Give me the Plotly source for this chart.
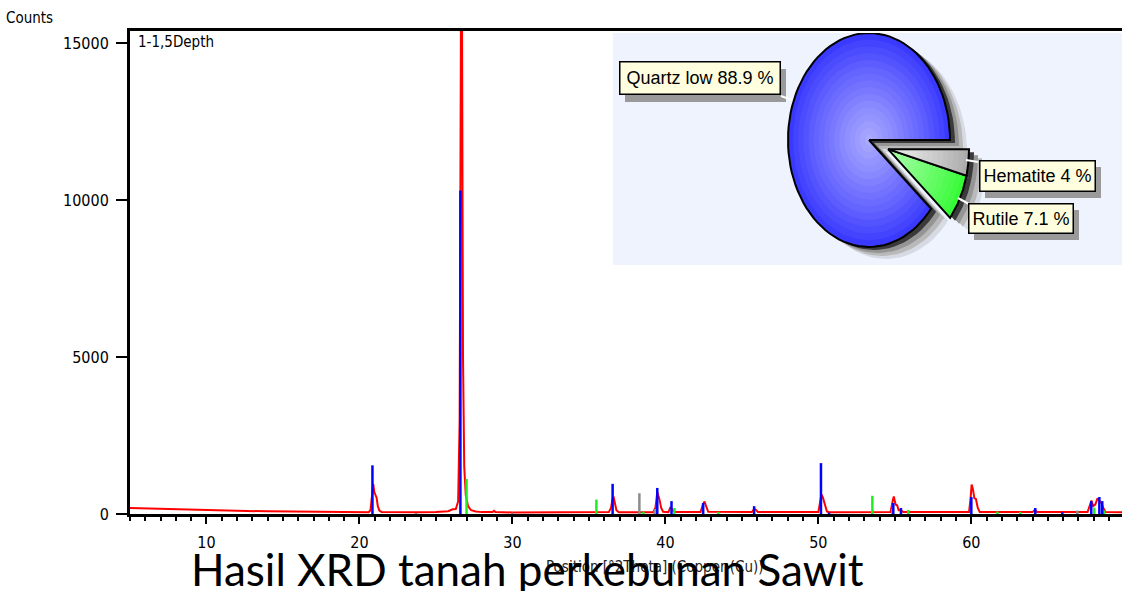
import numpy as np
import plotly.graph_objects as go

# ---------------- diffraction profile (2Theta in degrees, counts) ----------------
profile_2theta = [
    5.0, 6.0, 8.0, 10.0, 12.0, 14.0, 16.0, 18.0, 20.0, 20.6,
    20.72, 20.82, 20.9, 20.97, 21.05, 21.12, 21.2, 21.3, 21.45, 22.0,
    24.0, 25.0, 25.8, 26.1, 26.3, 26.45, 26.55, 26.64, 26.7, 26.77,
    26.85, 26.95, 27.1, 27.3, 27.6, 28.0, 28.7, 28.8, 28.9, 30.0,
    33.0, 36.3, 36.45, 36.55, 36.62, 36.7, 36.8, 36.95, 39.2, 39.35,
    39.47, 39.55, 39.62, 39.72, 39.85, 40.2, 40.32, 40.42, 40.52, 40.7,
    42.3, 42.45, 42.56, 42.66, 42.8, 45.65, 45.8, 45.9, 46.05, 50.0,
    50.1, 50.2, 50.3, 50.42, 50.56, 50.7, 54.72, 54.85, 54.93, 55.05,
    55.15, 55.25, 55.4, 55.55, 59.85, 59.95, 60.02, 60.1, 60.2, 60.3,
    60.42, 60.55, 64.0, 64.15, 64.3, 67.6, 67.75, 67.85, 67.97, 68.1,
    68.25, 68.38, 68.5, 68.62, 68.78, 69.85,
]
profile_counts = [
    190, 175, 150, 120, 100, 85, 75, 60, 50, 55,
    120, 600, 960, 700, 620, 520, 250, 110, 60, 55,
    55, 60, 90, 150, 160, 400, 3000, 16500, 16500, 5000,
    1500, 600, 250, 120, 80, 60, 60, 100, 60, 50,
    50, 60, 200, 500, 520, 300, 120, 55, 55, 200,
    700, 560, 450, 200, 70, 60, 200, 150, 100, 60,
    60, 300, 400, 250, 70, 60, 160, 140, 60, 60,
    300, 620, 520, 300, 80, 55, 60, 400, 560, 300,
    280, 120, 120, 60, 60, 500, 940, 800, 500, 480,
    200, 60, 60, 130, 60, 60, 300, 430, 250, 300,
    500, 420, 350, 200, 60, 55,
]
assert len(profile_2theta) == len(profile_counts)

# ---------------- reference pattern sticks ----------------
quartz_2theta = [20.85, 26.6, 36.55, 39.47, 40.4, 42.47, 45.8, 50.17, 50.7,
                 54.9, 55.4, 60.0, 64.18, 65.95, 67.84, 68.37, 68.56]
quartz_counts = [1550, 10300, 960, 830, 410, 350, 250, 1620, 40,
                 350, 190, 540, 190, 60, 410, 540, 410]

hematite_2theta = [23.7, 30.0, 38.3, 39.3, 54.84, 66.93]
hematite_counts = [30, 40, 660, 160, 160, 110]

rutile_2theta = [27.0, 35.49, 38.56, 40.59, 43.46, 53.53, 55.88, 61.7, 63.2, 68.04, 68.69]
rutile_counts = [1115, 460, 70, 190, 70, 580, 130, 80, 70, 200, 110]

# ---------------- phase composition ----------------
phase_names = ["Quartz low", "Rutile", "Hematite"]
phase_percent = [88.9, 7.1, 4.0]

y_ticks = [0, 5000, 10000, 15000]

# ---------------- page geometry ----------------
W, H = 1122, 591
L, R, T, B = 130, 0, 31, 77
PW, PH = W - L - R, H - T - B


def fx(px):
    return (px - L) / PW


def fy(py):
    return (H - B - py) / PH


TICKFONT = "DejaVu Sans Condensed, DejaVu Sans, Verdana"


def sticks(xs, ys):
    X, Y = [], []
    for x, y in zip(xs, ys):
        X += [x, x, None]
        Y += [0, y, None]
    return X, Y


fig = go.Figure()

# measured profile
fig.add_trace(go.Scatter(x=profile_2theta, y=profile_counts, mode="lines",
                         line=dict(color="#FF0000", width=2), xaxis="x", yaxis="y"))

# phase reference sticks
for xs, ys, col in [(hematite_2theta, hematite_counts, "#8C8C8C"),
                    (rutile_2theta, rutile_counts, "#1EEE1E"),
                    (quartz_2theta, quartz_counts, "#0000FF")]:
    sx, sy = sticks(xs, ys)
    fig.add_trace(go.Scatter(x=sx, y=sy, mode="lines",
                             line=dict(color=col, width=2.5), xaxis="x", yaxis="y"))

# ---------------- inset: phase pie (pixel units on x2/y2) ----------------
INS_X0, INS_X1, INS_Y0, INS_Y1 = 613, 1122, 33, 265
fig.add_trace(go.Scatter(x=[INS_X0, INS_X1, INS_X1, INS_X0, INS_X0],
                         y=[INS_Y0, INS_Y0, INS_Y1, INS_Y1, INS_Y0],
                         fill="toself", fillcolor="#EEF3FE", mode="lines",
                         line=dict(width=0), xaxis="x2", yaxis="y2"))

PIE_CX, PIE_CY = 869, 140
PIE_RX, PIE_RY = 81, 107
EXPLODE = 0.25

cum = np.concatenate([[0.0], np.cumsum(phase_percent)]) * 3.6
angles = [(cum[i], cum[i + 1]) for i in range(len(phase_percent))]
mid = np.radians((cum[1] + cum[-1]) / 2)
ex_dx = EXPLODE * PIE_RX * np.cos(mid)
ex_dy = -EXPLODE * PIE_RY * np.sin(mid)
centers = [(PIE_CX, PIE_CY), (PIE_CX + ex_dx, PIE_CY + ex_dy), (PIE_CX + ex_dx, PIE_CY + ex_dy)]


def sector(cx, cy, a0, a1, s=1.0, n=90):
    t = np.linspace(np.radians(a0), np.radians(a1), n)
    xs = [cx] + list(cx + s * PIE_RX * np.cos(t)) + [cx]
    ys = [cy] + list(cy - s * PIE_RY * np.sin(t)) + [cy]
    return xs, ys


# drop shadow
for ox, oy, col in [(17, 12, "#D6DAE3"), (13, 9, "#B9B9B9"), (9, 6, "#959595"), (5, 3, "#3A3A3A")]:
    for (a0, a1), (cx, cy) in zip(angles, centers):
        xs, ys = sector(cx + ox, cy + oy, a0, a1)
        fig.add_trace(go.Scatter(x=xs, y=ys, fill="toself", fillcolor=col, mode="lines",
                                 line=dict(width=0), xaxis="x2", yaxis="y2"))

edge_cols = [(58, 58, 255), (55, 250, 55), (172, 172, 172)]
core_cols = [(175, 175, 255), (175, 255, 175), (244, 244, 244)]
for (a0, a1), (cx, cy), ce, cc in zip(angles, centers, edge_cols, core_cols):
    layers = np.linspace(1.0, 0.05, 16)
    for k, s in enumerate(layers):
        f = (1 - s) ** 0.9
        rgb = tuple(int(round(e + (c - e) * f)) for e, c in zip(ce, cc))
        xs, ys = sector(cx, cy, a0, a1, s)
        fig.add_trace(go.Scatter(x=xs, y=ys, fill="toself",
                                 fillcolor="rgb(%d,%d,%d)" % rgb, mode="lines",
                                 line=dict(width=0), xaxis="x2", yaxis="y2"))
    xs, ys = sector(cx, cy, a0, a1)
    fig.add_trace(go.Scatter(x=xs, y=ys, mode="lines", line=dict(color="black", width=2),
                             xaxis="x2", yaxis="y2"))

# label boxes: (center x, center y, width, height) and leader line ends
label_boxes = {
    "Quartz low": (699.5, 78.5, 161, 33, (781, 96), (792, 100)),
    "Hematite": (1037, 175.5, 116, 31, (966, 160), (978, 162)),
    "Rutile": (1020.5, 218, 105, 30, (958, 198), (969, 204)),
}
annotations = []
for name, pct in zip(phase_names, phase_percent):
    bx, by, bw, bh, p0, p1 = label_boxes[name]
    # box shadow
    sx0, sy0 = bx - bw / 2 + 6, by - bh / 2 + 7
    fig.add_trace(go.Scatter(x=[sx0, sx0 + bw, sx0 + bw, sx0, sx0],
                             y=[sy0, sy0, sy0 + bh, sy0 + bh, sy0],
                             fill="toself", fillcolor="#9A9A9A", mode="lines",
                             line=dict(width=0), xaxis="x2", yaxis="y2"))
    fig.add_trace(go.Scatter(x=[p0[0], p1[0]], y=[p0[1], p1[1]], mode="lines",
                             line=dict(color="white", width=2), xaxis="x2", yaxis="y2"))
    annotations.append(dict(
        x=bx, y=by, xref="x2", yref="y2", text="%s %g %%" % (name, pct),
        showarrow=False, width=bw - 4, height=bh - 4, bgcolor="#FFFFE0",
        bordercolor="black", borderwidth=1.5, borderpad=1,
        font=dict(family="Liberation Sans Narrow, Arial Narrow, Liberation Sans",
                  size=18, color="black")))

# ---------------- text ----------------
annotations += [
    dict(x=fx(4), y=fy(18), xref="paper", yref="paper", text="Counts", showarrow=False,
         xanchor="left", yanchor="middle", font=dict(family=TICKFONT, size=15, color="black")),
    dict(x=fx(136), y=fy(42), xref="paper", yref="paper", text="1-1,5Depth", showarrow=False,
         xanchor="left", yanchor="middle", font=dict(family=TICKFONT, size=15, color="black")),
    dict(x=fx(655), y=fy(567), xref="paper", yref="paper",
         text="Position [°2Theta] (Copper (Cu))", showarrow=False,
         xanchor="center", yanchor="middle", font=dict(family=TICKFONT, size=15, color="#222222")),
    dict(x=fx(527), y=fy(569), xref="paper", yref="paper",
         text="Hasil XRD tanah perkebunan Sawit", showarrow=False,
         xanchor="center", yanchor="middle", font=dict(family="Lato, Open Sans", size=44, color="black")),
]

fig.update_layout(
    width=W, height=H,
    margin=dict(l=L, r=R, t=T, b=B, pad=0),
    paper_bgcolor="white", plot_bgcolor="white",
    showlegend=False, hovermode=False,
    annotations=annotations,
    xaxis=dict(range=[5, 69.85], showline=True, linecolor="black", linewidth=3, mirror=True,
               ticks="outside", tick0=0, dtick=10, ticklen=7, tickwidth=2, tickcolor="black",
               minor=dict(tick0=0, dtick=1, ticks="outside", ticklen=4, tickwidth=2,
                          tickcolor="black", showgrid=False),
               showgrid=False, zeroline=False, ticklabelstandoff=5,
               tickfont=dict(family=TICKFONT, size=16, color="black"), fixedrange=True),
    yaxis=dict(range=[0, 15380], showline=True, linecolor="black", linewidth=3,
               ticks="outside", tickvals=y_ticks, ticktext=[str(v) for v in y_ticks],
               ticklen=11, tickwidth=2, tickcolor="black", ticklabelstandoff=4,
               showgrid=False, zeroline=False,
               tickfont=dict(family=TICKFONT, size=16, color="black"), fixedrange=True),
    xaxis2=dict(domain=[fx(INS_X0), 1.0], range=[INS_X0, INS_X1], anchor="y2",
                visible=False, fixedrange=True),
    yaxis2=dict(domain=[fy(INS_Y1), fy(INS_Y0)], range=[INS_Y1, INS_Y0], anchor="x2",
                visible=False, fixedrange=True),
)

fig.write_html("out.html")
